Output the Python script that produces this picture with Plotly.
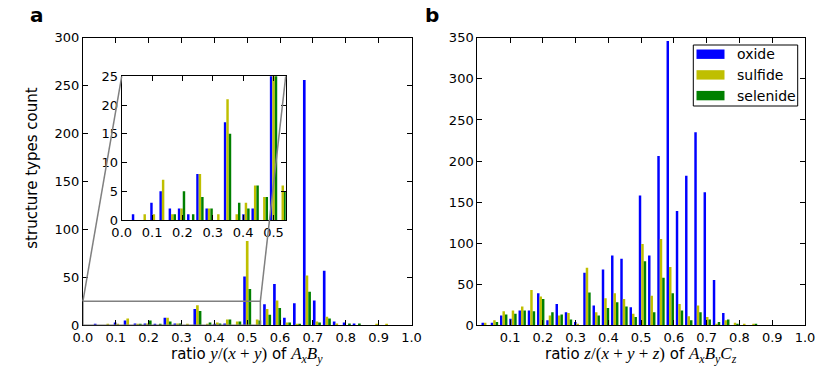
import numpy as np
import plotly.graph_objects as go

# ------- Data: histograms of composition ratios --------

# panel a: ratio y/(x+y) of AxBy, 33 bins over [0, 1]
a_edges = np.linspace(0.0, 1.0, 34)
a_ratio = (a_edges[:-1] + a_edges[1:]) / 2
oxide_a = [0, 1, 0, 3, 5, 2, 2, 1, 8, 2, 0, 17, 0, 1, 2, 0, 51,
           0, 22, 43, 8, 23, 256, 26, 57, 4, 3, 2, 0, 0, 0, 0, 0]
sulfide_a = [0, 0, 1, 1, 7, 1, 2, 0, 8, 2, 1, 21, 1, 3, 6, 4, 88,
             6, 17, 26, 3, 1, 52, 4, 9, 2, 0, 0, 0, 1, 1, 0, 0]
selenide_a = [0, 0, 0, 0, 0, 1, 5, 1, 4, 2, 0, 15, 3, 2, 6, 4, 38,
              5, 11, 18, 3, 1, 35, 3, 7, 0, 2, 2, 0, 0, 0, 0, 0]

# panel b: ratio z/(x+y+z) of AxByCz, 30 bins over [0.01, 0.857]
b_edges = np.linspace(0.01, 0.857, 31)
b_ratio = (b_edges[:-1] + b_edges[1:]) / 2
oxide_b = [3, 3, 12, 8, 18, 18, 39, 6, 26, 16, 4, 64, 24, 68, 85,
           81, 22, 158, 85, 206, 346, 139, 182, 235, 162, 55, 15, 0, 0, 0]
sulfide_b = [3, 6, 17, 18, 23, 43, 35, 12, 12, 15, 1, 70, 16, 33, 39,
             32, 14, 99, 36, 105, 71, 26, 11, 24, 10, 2, 6, 3, 1, 1]
selenide_b = [0, 4, 13, 14, 18, 17, 32, 16, 13, 7, 0, 40, 12, 21, 28,
              23, 10, 78, 16, 58, 39, 18, 6, 16, 7, 4, 7, 2, 0, 1]

names = ['oxide', 'sulfide', 'selenide']
colors = ['#0000ff', '#bfbf00', '#008000']

a_ticks = [0.0, 0.1, 0.2, 0.3, 0.4, 0.5, 0.6, 0.7, 0.8, 0.9, 1.0]
b_ticks = [0.1, 0.2, 0.3, 0.4, 0.5, 0.6, 0.7, 0.8, 0.9, 1.0]
inset_ticks = [0.0, 0.1, 0.2, 0.3, 0.4, 0.5]
inset_xrange = [0.0, 0.54]
inset_yrange = [0, 25]

# ------- Layout geometry (page pixels -> paper) --------
# the page body has an 8px margin, so the figure is shifted by OFF
PAGE_W, PAGE_H, OFF = 830, 383, 8
W, H = PAGE_W - OFF, PAGE_H - OFF


def px_x(p):
    return (p - OFF) / W


def px_y(p):
    return 1 - (p - OFF) / H


dom_ax = [px_x(82.9), px_x(411.5)]
dom_bx = [px_x(477.3), px_x(805.0)]
dom_y = [px_y(325.3), px_y(37.8)]
dom_ix = [px_x(121.7), px_x(285.7)]
dom_iy = [px_y(220.0), px_y(76.3)]

font = 'DejaVu Sans'

fig = go.Figure()
series_a = [oxide_a, sulfide_a, selenide_a]
series_b = [oxide_b, sulfide_b, selenide_b]
for name, col, ya, yb in zip(names, colors, series_a, series_b):
    bar = dict(marker_color=col, marker_line_width=0, showlegend=False, name=name)
    fig.add_bar(x=a_ratio, y=ya, xaxis='x', yaxis='y', **bar)
    fig.add_bar(x=b_ratio, y=yb, xaxis='x2', yaxis='y2', **bar)
    fig.add_bar(x=a_ratio, y=ya, xaxis='x3', yaxis='y3', **bar)

axis = dict(showline=True, linecolor='black', linewidth=1, mirror='ticks',
            ticks='inside', ticklen=5, tickcolor='black', tickwidth=1,
            showgrid=False, zeroline=False, automargin=False,
            tickfont=dict(family=font, size=13, color='black'))

fig.update_layout(
    width=W, height=H,
    margin=dict(l=0, r=0, t=0, b=0),
    paper_bgcolor='white', plot_bgcolor='white',
    barmode='group', bargap=0.2, bargroupgap=0,
    font=dict(family=font, color='black'),
    xaxis=dict(domain=dom_ax, range=[0, 1], tickvals=a_ticks, tickformat='.1f',
               anchor='y', **axis),
    yaxis=dict(domain=dom_y, range=[0, 300], dtick=50, anchor='x', **axis),
    xaxis2=dict(domain=dom_bx, range=[0, 1], tickvals=b_ticks, tickformat='.1f',
                anchor='y2', **axis),
    yaxis2=dict(domain=dom_y, range=[0, 350], dtick=50, anchor='x2', **axis),
    xaxis3=dict(domain=dom_ix, range=inset_xrange, tickvals=inset_ticks,
                tickformat='.1f', anchor='y3', **axis),
    yaxis3=dict(domain=dom_iy, range=inset_yrange, dtick=5, anchor='x3', **axis),
)

# ------- Zoom box and connectors (mark_inset style) --------
gray = dict(color='#808080', width=1.5)


def ax_paper(x, y):
    px = dom_ax[0] + x * (dom_ax[1] - dom_ax[0])
    py = dom_y[0] + y / 300 * (dom_y[1] - dom_y[0])
    return px, py


fig.add_shape(type='rect', xref='x', yref='y', x0=inset_xrange[0], x1=inset_xrange[1],
              y0=inset_yrange[0], y1=inset_yrange[1], line=gray, layer='above')
for corner, inset_x in [(inset_xrange[0], dom_ix[0]), (inset_xrange[1], dom_ix[1])]:
    x0, y0 = ax_paper(corner, inset_yrange[1])
    fig.add_shape(type='line', xref='paper', yref='paper', x0=x0, y0=y0,
                  x1=inset_x, y1=dom_iy[1], line=gray, layer='above')

# ------- Legend (matplotlib-like box in panel b) --------
fig.add_shape(type='rect', xref='paper', yref='paper', x0=px_x(693.3), x1=px_x(797.7),
              y0=px_y(106), y1=px_y(45), line=dict(color='black', width=1),
              fillcolor='white', layer='above')
for k, (name, col) in enumerate(zip(names, colors)):
    yc = 54.2 + k * 20.7
    fig.add_shape(type='rect', xref='paper', yref='paper', x0=px_x(696.5), x1=px_x(724.5),
                  y0=px_y(yc + 4.7), y1=px_y(yc - 4.7), line_width=0,
                  fillcolor=col, layer='above')
    fig.add_annotation(x=px_x(735), y=px_y(yc), xref='paper', yref='paper', text=name,
                       showarrow=False, xanchor='left', yanchor='middle',
                       font=dict(family=font, size=14, color='black'))

# ------- Text --------
math = '<span style="font-family:Liberation Serif;font-size:17px">{}</span>'
title_a = 'ratio ' + math.format('<i>y</i>/(<i>x</i> + <i>y</i>)') + ' of ' + \
    math.format('<i>A<sub>x</sub>B<sub>y</sub></i>')
title_b = 'ratio ' + math.format('<i>z</i>/(<i>x</i> + <i>y</i> + <i>z</i>)') + ' of ' + \
    math.format('<i>A<sub>x</sub>B<sub>y</sub>C<sub>z</sub></i>')

texts = [
    dict(x=px_x(36.7), y=px_y(15), text='<b>a</b>', font=dict(family=font, size=20)),
    dict(x=px_x(432), y=px_y(15), text='<b>b</b>', font=dict(family=font, size=20)),
    dict(x=px_x(247), y=px_y(355), text=title_a, font=dict(family=font, size=15)),
    dict(x=px_x(641), y=px_y(355), text=title_b, font=dict(family=font, size=15)),
    dict(x=px_x(31.7), y=px_y(168), text='structure types count', textangle=-90,
         font=dict(family=font, size=15)),
]
for t in texts:
    fig.add_annotation(xref='paper', yref='paper', showarrow=False,
                       xanchor='center', yanchor='middle', **t)

fig.write_html("out.html")
